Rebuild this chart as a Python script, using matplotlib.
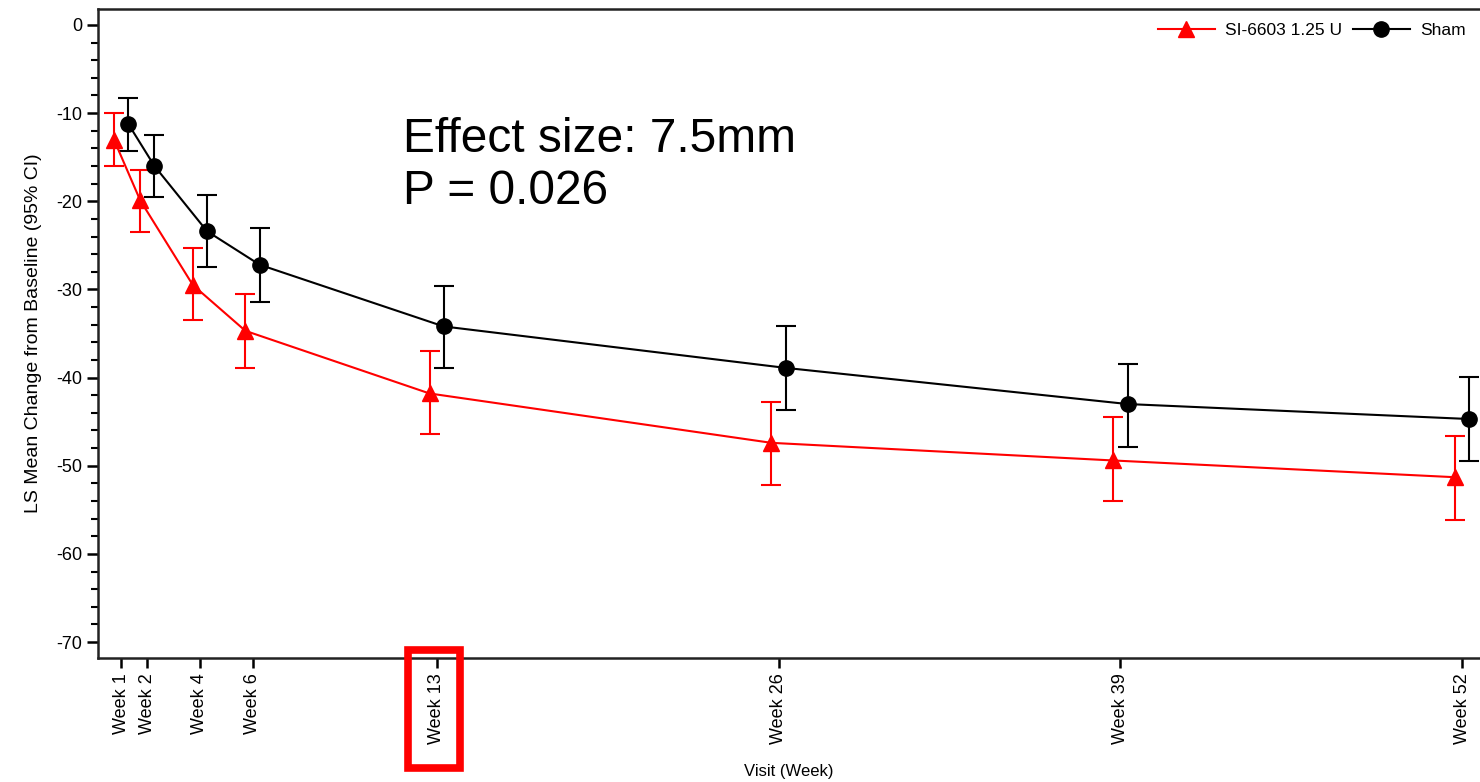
import matplotlib
matplotlib.use("Agg")
import matplotlib.pyplot as plt
from matplotlib.patches import Rectangle
from matplotlib.lines import Line2D
from matplotlib.ticker import MultipleLocator
import numpy as np

plt.rcParams['font.family'] = ['Liberation Sans', 'DejaVu Sans']
plt.rcParams['axes.unicode_minus'] = False

weeks = [1, 2, 4, 6, 13, 26, 39, 52]
week_labels = ["Week 1", "Week 2", "Week 4", "Week 6", "Week 13", "Week 26", "Week 39", "Week 52"]

si_mean = [-13.0, -19.9, -29.5, -34.7, -41.8, -47.4, -49.4, -51.3]
si_lo = [-16.0, -23.5, -33.5, -38.9, -46.4, -52.2, -54.0, -56.1]
si_hi = [-10.0, -16.5, -25.3, -30.5, -37.0, -42.8, -44.5, -46.6]

sham_mean = [-11.2, -16.0, -23.4, -27.2, -34.2, -38.9, -43.0, -44.7]
sham_lo = [-14.3, -19.5, -27.5, -31.4, -38.9, -43.7, -47.9, -49.5]
sham_hi = [-8.3, -12.5, -19.3, -23.0, -29.6, -34.2, -38.5, -39.9]

offset = 0.27

fig = plt.figure(figsize=(14.8, 7.82), dpi=100)
ax = fig.add_axes([98/1480, 1 - 658/782, 1 - 98/1480, (658 - 9)/782])

x = np.array(weeks, dtype=float)
si_m = np.array(si_mean)
sh_m = np.array(sham_mean)

ax.errorbar(x - offset, si_m, yerr=[si_m - np.array(si_lo), np.array(si_hi) - si_m],
            color='#ff0000', ecolor='#ff0000', marker='^', markersize=11, lw=1.5,
            elinewidth=1.5, capsize=7, capthick=1.5, zorder=3)
ax.errorbar(x + offset, sh_m, yerr=[sh_m - np.array(sham_lo), np.array(sham_hi) - sh_m],
            color='black', ecolor='black', marker='o', markersize=11, lw=1.5,
            elinewidth=1.5, capsize=7, capthick=1.5, zorder=3)

ax.set_xlim(0.125, 52.67)
ax.set_ylim(-71.8, 1.8)
ax.set_xticks(weeks)
ax.set_xticklabels(week_labels, rotation=90, fontsize=13)
ax.yaxis.set_major_locator(MultipleLocator(10))
ax.yaxis.set_minor_locator(MultipleLocator(2))
ax.tick_params(axis='y', which='major', length=8, width=1.8, labelsize=13)
ax.tick_params(axis='y', which='minor', length=5, width=1.5)
ax.tick_params(axis='x', which='major', length=7, width=1.8, pad=4)

for side in ['left', 'bottom', 'top']:
    ax.spines[side].set_linewidth(1.8)
    ax.spines[side].set_color('#222222')
ax.spines['right'].set_visible(False)

ax.set_ylabel("LS Mean Change from Baseline (95% CI)", fontsize=14, labelpad=10)
ax.set_xlabel("Visit (Week)", fontsize=12, labelpad=14)

handles = [Line2D([], [], color='#ff0000', marker='^', markersize=11, lw=1.5),
           Line2D([], [], color='black', marker='o', markersize=11, lw=1.5)]
ax.legend(handles, ['SI-6603 1.25 U', 'Sham'], loc='upper right', ncol=2, frameon=False,
          fontsize=12.5, handlelength=3.3, columnspacing=0.6, handletextpad=0.6,
          borderaxespad=0.4, bbox_to_anchor=(1.0, 1.0))

fig.text(403/1480, 1 - 166/782, "Effect size: 7.5mm\nP = 0.026", fontsize=34.5,
         va='center', ha='left', linespacing=1.2)

rect = Rectangle((408/1480, 1 - 768/782), 52/1480, 118/782, transform=fig.transFigure,
                 fill=False, edgecolor='#ff0000', linewidth=5.5, zorder=10)
fig.patches.append(rect)

fig.savefig("out.png", dpi=100)
